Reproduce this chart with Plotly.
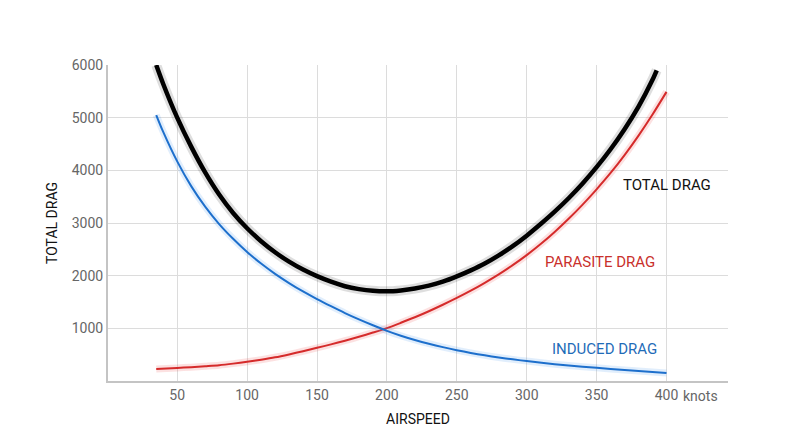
import plotly.graph_objects as go

# Data (airspeed in knots, drag)
total_x = [35, 40, 50, 60, 70, 80, 90, 100, 110, 120, 130, 140, 150, 160, 170, 180, 190, 200,
           210, 220, 230, 240, 250, 260, 270, 280, 290, 300, 310, 320, 330, 340, 350, 360, 370, 380, 390, 393]
total_y = [6000, 5640, 5000, 4450, 3960, 3540, 3190, 2900, 2655, 2445, 2265, 2115, 1990, 1885, 1800, 1745, 1712, 1702,
           1720, 1755, 1810, 1885, 1985, 2100, 2230, 2385, 2560, 2760, 2980, 3215, 3470, 3750, 4060, 4400, 4780, 5210, 5720, 5900]

induced_x = [35, 40, 50, 60, 70, 80, 90, 100, 110, 120, 130, 140, 150, 160, 170, 180, 190, 200,
             210, 220, 230, 240, 250, 260, 270, 280, 290, 300, 320, 340, 360, 380, 400]
induced_y = [5050, 4730, 4170, 3700, 3310, 2980, 2700, 2450, 2230, 2035, 1860, 1700, 1555, 1420, 1290, 1170, 1058, 952,
             860, 780, 708, 643, 585, 533, 487, 447, 411, 378, 320, 272, 228, 188, 153]

parasite_x = [35, 50, 60, 70, 80, 90, 100, 110, 120, 130, 140, 150, 160, 170, 180, 190, 200,
              210, 220, 230, 240, 250, 260, 270, 280, 290, 300, 310, 320, 330, 340, 350, 360, 370, 380, 390, 400]
parasite_y = [230, 248, 262, 280, 300, 330, 365, 405, 450, 505, 565, 630, 695, 765, 840, 920, 1005,
              1105, 1210, 1325, 1448, 1577, 1715, 1865, 2025, 2200, 2390, 2600, 2830, 3080, 3350, 3640, 3950, 4290, 4660, 5060, 5490]

x_ticks = [50, 100, 150, 200, 250, 300, 350, 400]
x_ticklabels = ["50", "100", "150", "200", "250", "300", "350", "400"]
y_ticks = [1000, 2000, 3000, 4000, 5000, 6000]

BLACK = "#000000"
RED = "#d52b2b"
BLUE = "#1d6fcc"
FONT = "Roboto, Arial, sans-serif"

fig = go.Figure()


def add_curve(xs, ys, color, width, glow_color, glow_width):
    fig.add_trace(go.Scatter(x=xs, y=ys, mode="lines",
                             line=dict(color=glow_color, width=glow_width, shape="spline", smoothing=0.8),
                             hoverinfo="skip", showlegend=False))
    fig.add_trace(go.Scatter(x=xs, y=ys, mode="lines",
                             line=dict(color=color, width=width, shape="spline", smoothing=0.8),
                             showlegend=False))


add_curve(parasite_x, parasite_y, RED, 2, "rgba(235,70,70,0.16)", 7)
add_curve(induced_x, induced_y, BLUE, 2, "rgba(70,150,235,0.16)", 7)
add_curve(total_x, total_y, BLACK, 4.5, "rgba(0,0,0,0.13)", 10)

# curve labels
fig.add_annotation(x=400.3, y=3727, xref="x", yref="y", text="TOTAL DRAG", showarrow=False,
                   xanchor="center", yanchor="middle",
                   font=dict(family=FONT, size=15, color="#111111"))
fig.add_annotation(x=352.7, y=2266, xref="x", yref="y", text="PARASITE DRAG", showarrow=False,
                   xanchor="center", yanchor="middle",
                   font=dict(family=FONT, size=15, color="#c9302c"))
fig.add_annotation(x=356, y=615, xref="x", yref="y", text="INDUCED DRAG", showarrow=False,
                   xanchor="center", yanchor="middle",
                   font=dict(family=FONT, size=15, color="#1f6cb8"))
# unit next to last tick
fig.add_annotation(x=400, y=0, xref="x", yref="paper", text="knots", showarrow=False,
                   font=dict(family=FONT, size=14, color="#666666"), xanchor="left", yanchor="top",
                   xshift=15, yshift=-5)

fig.update_layout(
    width=792, height=439,
    margin=dict(l=100, r=72, t=57, b=66),
    paper_bgcolor="white", plot_bgcolor="white",
    font=dict(family=FONT, size=14, color="#666666"),
    xaxis=dict(range=[0.5, 444], tickvals=x_ticks, ticktext=x_ticklabels,
               showgrid=True, gridcolor="#dcdcdc", gridwidth=1,
               showline=True, linecolor="#c4c4c4", linewidth=2,
               zeroline=False, ticks="", ticklen=0, automargin=False,
               title=dict(text="AIRSPEED", font=dict(family=FONT, size=14, color="#111111"), standoff=12),
               tickfont=dict(size=14, color="#666666")),
    yaxis=dict(range=[0, 6000], tickvals=y_ticks,
               showgrid=True, gridcolor="#dcdcdc", gridwidth=1,
               showline=True, linecolor="#c4c4c4", linewidth=2,
               zeroline=False, ticks="", ticklen=0, automargin=False,
               title=dict(text="TOTAL DRAG", font=dict(family=FONT, size=14, color="#111111"), standoff=11),
               tickfont=dict(size=14, color="#666666")),
)

fig.write_html("out.html")
